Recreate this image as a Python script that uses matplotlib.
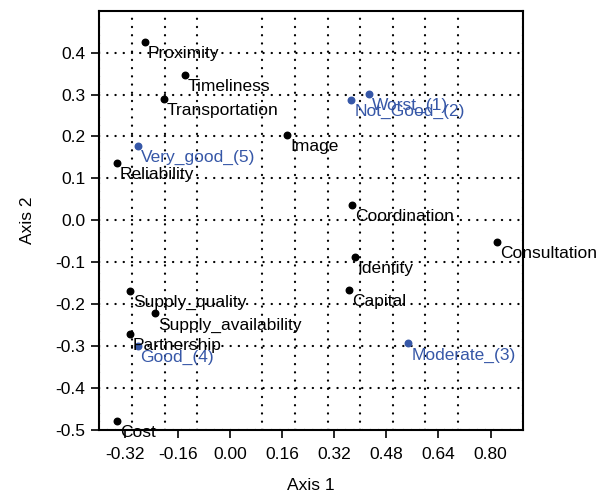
import numpy as np
import matplotlib
matplotlib.use("Agg")
import matplotlib.pyplot as plt
from matplotlib.ticker import MultipleLocator, FixedLocator

plt.rcParams["font.family"] = ["Liberation Sans", "DejaVu Sans"]

# row points (attributes)
row_labels = ["Proximity", "Timeliness", "Transportation", "Image", "Reliability",
              "Coordination", "Consultation", "Identity", "Capital",
              "Supply_quality", "Supply_availability", "Partnership", "Cost"]
row_x = [-0.259, -0.137, -0.201, 0.177, -0.345,
         0.376, 0.819, 0.383, 0.367,
         -0.306, -0.228, -0.307, -0.345]
row_y = [0.426, 0.346, 0.290, 0.204, 0.137,
         0.036, -0.052, -0.087, -0.166,
         -0.168, -0.222, -0.270, -0.479]

# column points (ratings)
col_labels = ["Worst_(1)", "Not_Good_(2)", "Moderate_(3)", "Good_(4)", "Very_good_(5)"]
col_x = [0.426, 0.373, 0.548, -0.282, -0.281]
col_y = [0.301, 0.288, -0.293, -0.300, 0.177]

x_ticks = [-0.32, -0.16, 0.00, 0.16, 0.32, 0.48, 0.64, 0.80]
y_ticks = [0.4, 0.3, 0.2, 0.1, 0.0, -0.1, -0.2, -0.3, -0.4, -0.5]

blue = "#3657a7"

fig = plt.figure(figsize=(6.01, 4.96), dpi=100)
ax = fig.add_axes([99.3 / 601, 1 - 430 / 496, (523.3 - 99.3) / 601, (430 - 10.7) / 496])

ax.set_xlim(-0.40, 0.90)
ax.set_ylim(-0.5, 0.5)

ax.xaxis.set_major_locator(FixedLocator(x_ticks))
ax.xaxis.set_minor_locator(MultipleLocator(0.1))
ax.yaxis.set_major_locator(FixedLocator(y_ticks))
ax.set_xticklabels([f"{v:.2f}" for v in x_ticks])
ax.set_yticklabels([f"{v:.1f}" for v in y_ticks])

ax.tick_params(axis="both", which="major", direction="out", length=6, width=1.2,
               labelsize=12.5)
ax.tick_params(axis="x", which="major", pad=6)
ax.tick_params(axis="y", which="major", pad=4)
ax.tick_params(axis="x", which="minor", length=0)
ax.tick_params(right=False, top=False)

grid_kw = dict(color="black", linewidth=1.6, linestyle=(0, (0.1, 3.6)),
               dash_capstyle="round")
ax.xaxis.grid(True, which="minor", **grid_kw)
ax.yaxis.grid(True, which="major", **grid_kw)
ax.set_axisbelow(True)

for s in ax.spines.values():
    s.set_linewidth(1.5)

ax.scatter(row_x, row_y, s=22, color="black", zorder=3)
ax.scatter(col_x, col_y, s=22, color=blue, zorder=3)

for lab, x, y in zip(row_labels, row_x, row_y):
    ax.annotate(lab, (x, y), xytext=(2, -3), textcoords="offset points",
                ha="left", va="top", fontsize=12.5, color="black")
for lab, x, y in zip(col_labels, col_x, col_y):
    ax.annotate(lab, (x, y), xytext=(2, -3), textcoords="offset points",
                ha="left", va="top", fontsize=12.5, color=blue)

ax.set_xlabel("Axis 1", fontsize=12.5, labelpad=12)
ax.set_ylabel("Axis 2", fontsize=12.5, labelpad=15)

fig.savefig("out.png", dpi=100)
